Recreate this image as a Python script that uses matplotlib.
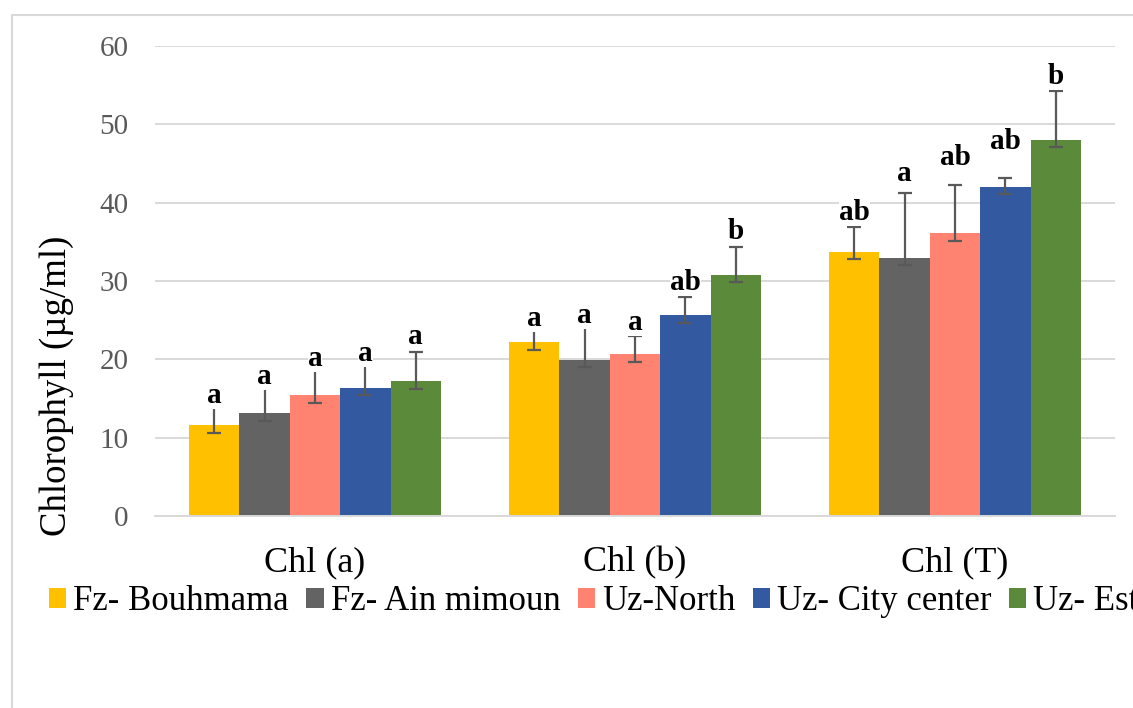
import numpy as np
import matplotlib
matplotlib.use("Agg")
import matplotlib.pyplot as plt
from matplotlib.patches import Rectangle, Patch

plt.rcParams['font.family'] = ['Liberation Serif', 'DejaVu Serif']

# data
categories = ['Chl (a)', 'Chl (b)', 'Chl (T)']
sites = ['Fz- Bouhmama', 'Fz- Ain mimoun', 'Uz-North', 'Uz- City center', 'Uz- Est']
colors = ['#FFC000', '#636363', '#FF8370', '#335AA1', '#5B8A3A']

values = [
    [11.6, 22.2, 33.7],   # Fz- Bouhmama
    [13.1, 19.9, 32.9],   # Fz- Ain mimoun
    [15.4, 20.7, 36.1],   # Uz-North
    [16.4, 25.6, 42.0],   # Uz- City center
    [17.2, 30.8, 48.0],   # Uz- Est
]
err_up = [
    [2.5, 1.8, 3.2],
    [5.4, 4.9, 8.3],
    [4.1, 2.3, 6.2],
    [2.9, 2.4, 1.1],
    [3.8, 3.6, 6.3],
]
err_down = [
    [1.0, 1.0, 0.9],
    [1.0, 0.9, 0.9],
    [1.0, 1.0, 1.0],
    [0.9, 0.9, 0.9],
    [0.95, 0.9, 0.9],
]
letters = [
    ['a', 'a', 'ab'],
    ['a', 'a', 'a'],
    ['a', 'a', 'ab'],
    ['a', 'ab', 'ab'],
    ['a', 'b', 'b'],
]
letter_y = [
    [14.4, 24.3, 37.8],
    [16.85, 24.6, 42.8],
    [19.15, 23.7, 44.8],
    [19.8, 28.9, 46.8],
    [22.0, 35.4, 55.2],
]

W, H = 1133, 708
fig = plt.figure(figsize=(W / 100, H / 100), dpi=100)
ax = fig.add_axes([155 / W, 1 - 516 / H, 960 / W, 470 / H])

x = np.arange(len(categories))
bw = 0.1575
for i in range(len(sites)):
    pos = x + (i - 2) * bw
    ax.bar(pos, values[i], bw, color=colors[i], zorder=2)
    ax.errorbar(pos, values[i], yerr=[err_down[i], err_up[i]], fmt='none',
                ecolor='#595959', elinewidth=1.6, capsize=5, capthick=1.6, zorder=3)
    for j in range(len(categories)):
        ax.text(pos[j], letter_y[i][j], letters[i][j], ha='center', va='baseline',
                fontsize=21, fontweight='bold', color='black', zorder=4,
                bbox=dict(facecolor='white', edgecolor='none', pad=0))

ax.set_xlim(-0.5, 2.5)
ax.set_ylim(0, 60)
ax.set_yticks(range(0, 61, 10))
ax.set_xticks(x)
ax.set_xticklabels(categories, fontsize=26, color='black')
ax.tick_params(axis='y', length=0, pad=19, labelsize=21, labelcolor='#595959')
ax.tick_params(axis='x', length=0, pad=22)
ax.grid(axis='y', color='#D9D9D9', linewidth=1.4, zorder=0)
ax.set_axisbelow(True)
for s in ['top', 'right', 'left']:
    ax.spines[s].set_visible(False)
ax.spines['bottom'].set_color('#D9D9D9')
ax.spines['bottom'].set_linewidth(1.4)

fig.text(57 / W, 1 - 386 / H, 'Chlorophyll (\u00b5g/ml)', rotation=90,
         ha='center', va='center', fontsize=26.5, color='black')

handles = [Patch(facecolor=c, edgecolor='none') for c in colors]
fig.legend(handles, sites, loc='upper left', bbox_to_anchor=(49 / W, 1 - 585 / H),
           ncol=5, frameon=False, fontsize=25, handlelength=0.5, handleheight=0.5,
           handletextpad=0.2, columnspacing=0.5, borderpad=0, borderaxespad=0)

# chart border (cropped at right and bottom)
fig.patches.append(Rectangle((12 / W, -0.1), 1.2, 1 - 15 / H + 0.1,
                             transform=fig.transFigure, fill=False,
                             edgecolor='#D9D9D9', linewidth=1.5))

fig.savefig('out.png', dpi=100)
